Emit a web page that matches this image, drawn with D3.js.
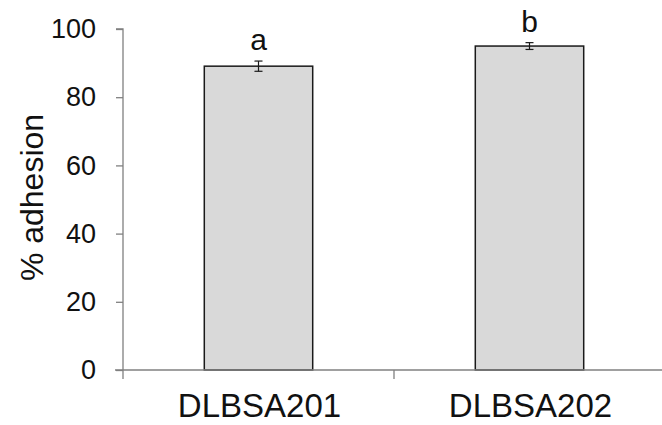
<!DOCTYPE html>
<html><head><meta charset="utf-8">
<script src="https://cdn.jsdelivr.net/npm/d3@7"></script>
<style>body{margin:0;background:#fff}svg{display:block}text{font-family:"Liberation Sans",Arial,sans-serif;fill:#111}</style>
</head><body>
<script>
const categories = ["DLBSA201", "DLBSA202"];
const values = [89.1, 95.0];
const errors = [1.5, 1.0];
const letters = ["a", "b"];
const yTicks = [0, 20, 40, 60, 80, 100];

const W = 662, H = 425;
const svg = d3.select("body").append("svg").attr("width", W).attr("height", H);
const x0 = 123, x1 = 665, yTop = 29, yBot = 370;
const x = d3.scaleBand().domain(categories).range([x0, x1]).paddingInner(0.6).paddingOuter(0.3);
const y = d3.scaleLinear().domain([0, 100]).range([yBot, yTop]);
const axisColor = "#808080";

// bars
svg.selectAll("rect.bar").data(values).enter().append("rect")
  .attr("x", (d, i) => x(categories[i]))
  .attr("y", d => y(d))
  .attr("width", x.bandwidth())
  .attr("height", d => y(0) - y(d))
  .attr("fill", "#d9d9d9").attr("stroke", "#1a1a1a").attr("stroke-width", 1.5);

// y axis
const ya = svg.append("g").attr("transform", `translate(${x0},0)`)
  .call(d3.axisLeft(y).tickValues(yTicks).tickSize(7).tickPadding(20));
ya.select(".domain").attr("stroke", axisColor).attr("stroke-width", 1.3).attr("d", `M-7,${yTop}H0V${yBot}`);
ya.selectAll(".tick line").attr("stroke", axisColor).attr("stroke-width", 1.3);
ya.selectAll(".tick text").attr("font-size", 27).attr("fill", "#111");

// x axis line with separators
const xa = svg.append("g");
xa.append("line").attr("x1", x0 - 8).attr("x2", W).attr("y1", yBot).attr("y2", yBot)
  .attr("stroke", axisColor).attr("stroke-width", 1.3);
const seps = [x0, x0 + (x1 - x0) / 2];
xa.selectAll("line.sep").data(seps).enter().append("line")
  .attr("x1", d => d).attr("x2", d => d).attr("y1", yBot).attr("y2", yBot + 9)
  .attr("stroke", axisColor).attr("stroke-width", 1.3);
xa.selectAll("text.cat").data(categories).enter().append("text")
  .attr("x", d => x(d) + x.bandwidth() / 2 + 1).attr("y", 417)
  .attr("text-anchor", "middle").attr("font-size", 33).text(d => d);

// error bars
const eg = svg.append("g").attr("stroke", "#1a1a1a").attr("stroke-width", 1.2);
values.forEach((v, i) => {
  const cx = x(categories[i]) + x.bandwidth() / 2;
  eg.append("line").attr("x1", cx).attr("x2", cx).attr("y1", y(v + errors[i])).attr("y2", y(v - errors[i]));
  eg.append("line").attr("x1", cx - 4).attr("x2", cx + 4).attr("y1", y(v + errors[i])).attr("y2", y(v + errors[i]));
  eg.append("line").attr("x1", cx - 4).attr("x2", cx + 4).attr("y1", y(v - errors[i])).attr("y2", y(v - errors[i]));
  svg.append("text").attr("x", cx).attr("y", y(v + errors[i]) - 11)
    .attr("text-anchor", "middle").attr("font-size", 30).text(letters[i]);
});

// y label
svg.append("text").attr("transform", `translate(43,197.5) rotate(-90)`)
  .attr("text-anchor", "middle").attr("font-size", 32).text("% adhesion");
</script>
</body></html>
